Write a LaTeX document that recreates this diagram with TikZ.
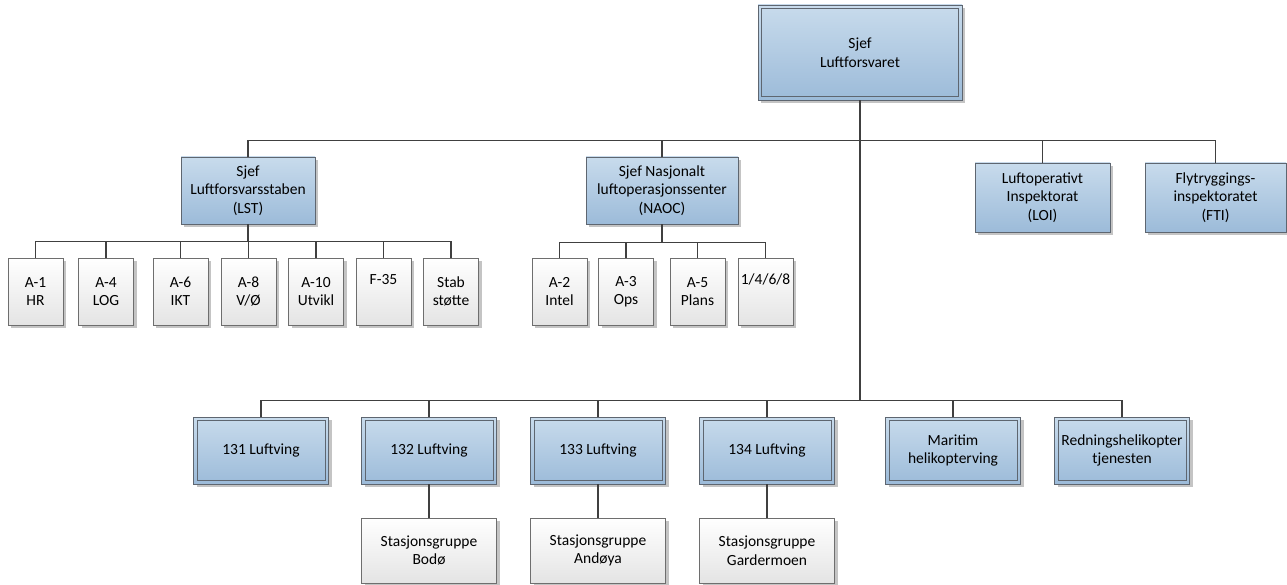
\documentclass[tikz,border=0pt]{standalone}
\usepackage{fontspec}
\setmainfont{Carlito}
\usetikzlibrary{shadows}
\definecolor{blueT}{HTML}{C8DBEC}
\definecolor{blueB}{HTML}{9CBBD9}
\definecolor{bdr}{HTML}{5E6670}
\definecolor{gbdr}{HTML}{6E6E6E}
\definecolor{grayB}{HTML}{E4E4E4}
\definecolor{lnc}{HTML}{404040}
\definecolor{shd}{HTML}{C4C4C4}
\begin{document}
\begin{tikzpicture}[x=1pt,y=-1pt,
  box/.style={draw=bdr, line width=0.9pt, inner sep=0pt, align=center,
    font=\fontsize{15.5}{18.5}\selectfont,
    drop shadow={shadow xshift=3pt, shadow yshift=-3pt, fill=shd, opacity=1}},
  bluebox/.style={box, top color=blueT, bottom color=blueB},
  dbl/.style={bluebox, path picture={\draw[bdr, line width=0.9pt]
    ([shift={(3.5pt,3.5pt)}]path picture bounding box.south west) rectangle
    ([shift={(-3.5pt,-3.5pt)}]path picture bounding box.north east);}},
  graybox/.style={box, draw=gbdr, top color=white, bottom color=grayB,
    minimum width=55pt, minimum height=67pt},
  wing/.style={dbl, minimum width=135pt, minimum height=67pt},
  stat/.style={graybox, minimum width=135pt, minimum height=65pt},
  conn/.style={draw=lnc, line width=1.5pt},
  stem/.style={draw=lnc, line width=2.6pt},
]
\useasboundingbox (0,0) rectangle (1287,585);

% top
\node[dbl, minimum width=204pt, minimum height=95pt] (top) at (860,52.5) {Sjef\\Luftforsvaret};

% level 2
\node[bluebox, minimum width=134pt, minimum height=67pt] (lst) at (248,190.5) {Sjef\\Luftforsvarsstaben\\(LST)};
\node[bluebox, minimum width=152pt, minimum height=67pt] (naoc) at (662,190.5) {Sjef Nasjonalt\\luftoperasjonssenter\\(NAOC)};
\node[bluebox, minimum width=135pt, minimum height=69pt] (loi) at (1042.5,197.5) {Luftoperativt\\Inspektorat\\(LOI)};
\node[bluebox, minimum width=141pt, minimum height=69pt] (fti) at (1215.5,197.5) {Flytryggings-\\inspektoratet\\(FTI)};

% LST staff
\node[graybox] (a1) at (35.5,291.5) {A-1\\HR};
\node[graybox] (a4) at (106,291.5) {A-4\\LOG};
\node[graybox] (a6) at (180.5,291.5) {A-6\\IKT};
\node[graybox] (a8) at (248.5,291.5) {A-8\\V/Ø};
\node[graybox] (a10) at (316,291.5) {A-10\\Utvikl};
\node[graybox] (f35) at (383.5,291.5) {F-35\\\strut};
\node[graybox] (stab) at (451,291.5) {Stab\\støtte};

% NAOC staff
\node[graybox] (a2) at (559.5,291.5) {A-2\\Intel};
\node[graybox] (a3) at (626,291.5) {A-3\\Ops};
\node[graybox] (a5) at (697.5,291.5) {A-5\\Plans};
\node[graybox] (a148) at (765.5,291.5) {1/4/6/8\\\strut};

% wings
\node[wing] (w131) at (261,450.5) {131 Luftving};
\node[wing] (w132) at (429,450.5) {132 Luftving};
\node[wing] (w133) at (598,450.5) {133 Luftving};
\node[wing] (w134) at (767,450.5) {134 Luftving};
\node[wing] (mar) at (953,450.5) {Maritim\\helikopterving};
\node[wing] (red) at (1122,450.5) {Redningshelikopter\\tjenesten};

% stations
\node[stat] (s132) at (429,550.5) {Stasjonsgruppe\\Bodø};
\node[stat] (s133) at (598,550.5) {Stasjonsgruppe\\Andøya};
\node[stat] (s134) at (767,550.5) {Stasjonsgruppe\\Gardermoen};

% connectors
\path (top.south) ++(0,40) coordinate (bus2);
\path (top.south) ++(0,300) coordinate (bus3);
\foreach \n in {lst,naoc,loi,fti} \draw[conn] (bus2) -| (\n.north);
\foreach \n in {w131,w132,w133,w134,mar,red} \draw[conn] (bus3) -| (\n.north);
\draw[stem] (top.south) -- (bus3);

\path (lst.south) ++(0,17) coordinate (lb);
\foreach \n in {a1,a4,a6,a8,a10,f35,stab} \draw[conn] (lb) -| (\n.north);
\draw[stem] (lst.south) -- (lb);

\path (naoc.south) ++(0,18) coordinate (nb);
\foreach \n in {a2,a3,a5,a148} \draw[conn] (nb) -| (\n.north);
\draw[stem] (naoc.south) -- (nb);

\draw[conn] (w132.south) -- (s132.north);
\draw[conn] (w133.south) -- (s133.north);
\draw[conn] (w134.south) -- (s134.north);
\end{tikzpicture}
\end{document}
